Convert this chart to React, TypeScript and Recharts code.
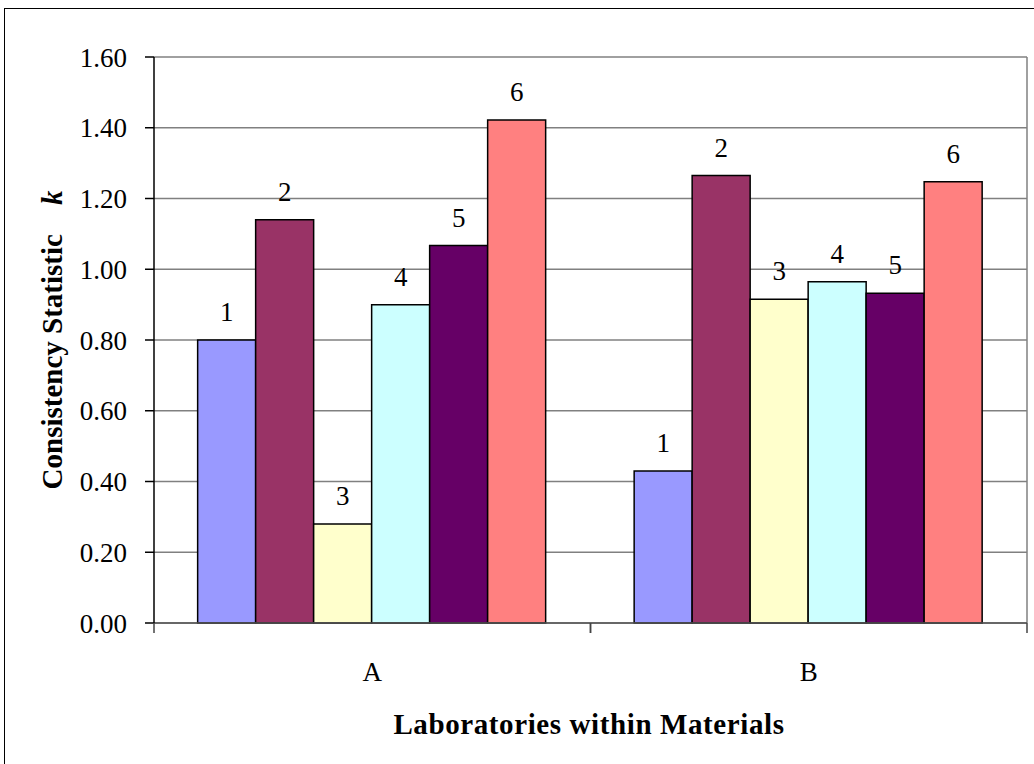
import React from "react";
import {
  BarChart,
  Bar,
  XAxis,
  YAxis,
  CartesianGrid,
  LabelList,
} from "recharts";

const FONT = '"Liberation Serif", "Times New Roman", serif';

const materials = ["A", "B"];
const lab1 = [0.8, 0.43];
const lab2 = [1.14, 1.265];
const lab3 = [0.28, 0.915];
const lab4 = [0.9, 0.965];
const lab5 = [1.067, 0.932];
const lab6 = [1.422, 1.247];
const yTicks = [0, 0.2, 0.4, 0.6, 0.8, 1.0, 1.2, 1.4, 1.6];

const labs = [lab1, lab2, lab3, lab4, lab5, lab6];
const COLORS = ["#9999FF", "#993366", "#FFFFCC", "#CCFFFF", "#660066", "#FF8080"];

const data = materials.map((m, i) => {
  const row: Record<string, any> = { material: m };
  labs.forEach((vals, j) => {
    row["lab" + (j + 1)] = vals[i];
  });
  return row;
});

const W = 1029;
const H = 755;
const MARGIN = { top: 48, right: 7, bottom: 81, left: 0 };
const Y_AXIS_W = 149;
const BAND = (W - MARGIN.right - Y_AXIS_W) / materials.length;

function XTick(props: any) {
  const { x, y, payload } = props;
  return (
    <g>
      <line x1={x - BAND / 2} y1={y} x2={x - BAND / 2} y2={y + 10} stroke="#444" strokeWidth={1.5} />
      <line x1={x + BAND / 2} y1={y} x2={x + BAND / 2} y2={y + 10} stroke="#444" strokeWidth={1.5} />
      <text x={x} y={y + 58} textAnchor="middle" fontFamily={FONT} fontSize={27} fill="#000">
        {payload.value}
      </text>
    </g>
  );
}

function YTitle(props: any) {
  const cx = 57;
  const cy = 331;
  return (
    <text
      x={cx}
      y={cy}
      transform={`rotate(-90 ${cx} ${cy})`}
      textAnchor="middle"
      fontFamily={FONT}
      fontSize={29}
      fontWeight="bold"
      fill="#000"
    >
      Consistency Statistic{"\u00a0\u00a0\u00a0\u00a0"}
      <tspan fontStyle="italic">k</tspan>
    </text>
  );
}

function XTitle(props: any) {
  return (
    <text
      x={584}
      y={725}
      textAnchor="middle"
      fontFamily={FONT}
      fontSize={29}
      fontWeight="bold"
      letterSpacing={0.6}
      fill="#000"
    >
      Laboratories within Materials
    </text>
  );
}

function makeLabel(n: number) {
  return (props: any) => {
    const { x, y, width } = props;
    return (
      <text
        x={Number(x) + Number(width) / 2}
        y={Number(y) - 19}
        textAnchor="middle"
        fontFamily={FONT}
        fontSize={27}
        fill="#000"
      >
        {n}
      </text>
    );
  };
}

export default function App() {
  return (
    <div
      style={{
        position: "absolute",
        left: 4,
        top: 8,
        width: W + 20,
        height: H + 20,
        borderLeft: "1.5px solid #000",
        borderTop: "1.5px solid #000",
        background: "#fff",
        fontFamily: FONT,
      }}
    >
      <BarChart
        width={W}
        height={H}
        data={data}
        margin={MARGIN}
        barCategoryGap="10%"
        barGap={0}
      >
        <CartesianGrid
          horizontal
          vertical
          verticalPoints={[W - MARGIN.right]}
          stroke="#808080"
          strokeWidth={1.5}
        />
        <XAxis
          dataKey="material"
          height={60}
          tickLine={false}
          tickSize={0}
          tickMargin={0}
          axisLine={{ stroke: "#555", strokeWidth: 1.5 }}
          tick={<XTick />}
          interval={0}
          label={<XTitle />}
        />
        <YAxis
          width={Y_AXIS_W}
          domain={[0, 1.6]}
          ticks={yTicks}
          interval={0}
          tickFormatter={(v: number) => v.toFixed(2)}
          tickSize={9}
          tickMargin={18}
          tick={{ fontFamily: FONT, fontSize: 27, fill: "#000" }}
          tickLine={{ stroke: "#000", strokeWidth: 1.5 }}
          axisLine={{ stroke: "#000", strokeWidth: 1.5 }}
          label={<YTitle />}
        />
        {labs.map((_, j) => (
          <Bar
            key={j}
            dataKey={"lab" + (j + 1)}
            fill={COLORS[j]}
            stroke="#000"
            strokeWidth={1.5}
            isAnimationActive={false}
          >
            <LabelList dataKey={"lab" + (j + 1)} content={makeLabel(j + 1)} />
          </Bar>
        ))}
      </BarChart>
    </div>
  );
}
